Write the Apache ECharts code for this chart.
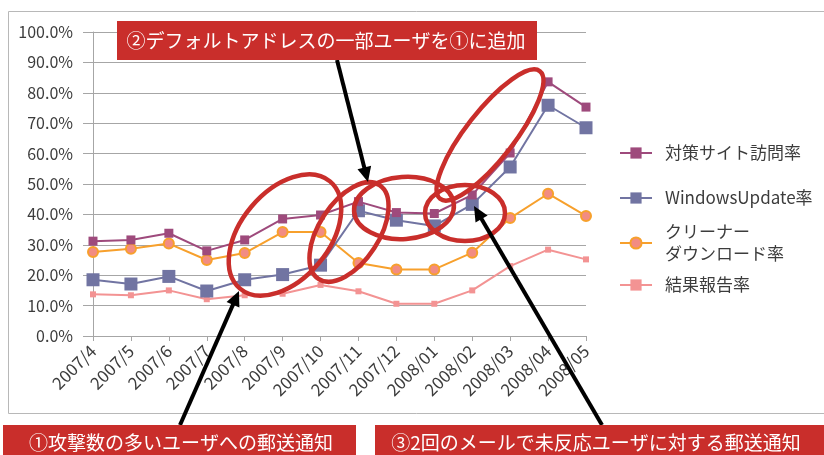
<!DOCTYPE html>
<html><head><meta charset="utf-8">
<script src="https://cdn.jsdelivr.net/npm/echarts@6/dist/echarts.min.js"></script>
<style>html,body{margin:0;padding:0;background:#fff}#c{width:824px;height:455px}</style>
</head><body><div id="c"></div>
<script>
const categories = ['2007/4','2007/5','2007/6','2007/7','2007/8','2007/9','2007/10','2007/11','2007/12','2008/01','2008/02','2008/03','2008/04','2008/05'];
const siteVisitRate      = [31.2, 31.6, 33.8, 28.0, 31.6, 38.5, 39.8, 44.2, 40.6, 40.3, 46.4, 60.2, 83.6, 75.3];
const windowsUpdateRate  = [18.5, 17.1, 19.6, 14.8, 18.5, 20.2, 23.3, 41.2, 38.1, 36.2, 43.3, 55.6, 75.9, 68.5];
const cleanerRate        = [27.6, 28.7, 30.4, 25.0, 27.3, 34.2, 34.2, 24.0, 21.9, 21.9, 27.4, 38.8, 46.8, 39.5];
const reportRate         = [13.7, 13.4, 15.0, 12.1, 13.4, 13.9, 16.8, 14.7, 10.6, 10.6, 15.0, 23.0, 28.4, 25.2];
const seriesNames = ['対策サイト訪問率', 'WindowsUpdate率', 'クリーナーダウンロード率', '結果報告率'];
const yMin = 0, yMax = 100, yStep = 10;
const note1 = '①攻撃数の多いユーザへの郵送通知';
const note2 = '②デフォルトアドレスの一部ユーザを①に追加';
const note3 = '③2回のメールで未反応ユーザに対する郵送通知';

const FONT = '"Noto Sans CJK JP", "Noto Sans", sans-serif';
const RED = '#C92E2B';
const TXT = '#3c3c3c';

function arrow(x1, y1, x2, y2) {
  const dx = x2 - x1, dy = y2 - y1, L = Math.hypot(dx, dy);
  const ux = dx / L, uy = dy / L, hl = 15, hw = 7;
  const bx = x2 - ux * hl, by = y2 - uy * hl;
  return [
    { type: 'line', z: 50, shape: { x1: x1, y1: y1, x2: bx + ux * 2, y2: by + uy * 2 }, style: { stroke: '#000', lineWidth: 4 } },
    { type: 'polygon', z: 50, shape: { points: [[x2, y2], [bx - uy * hw, by + ux * hw], [bx + uy * hw, by - ux * hw]] }, style: { fill: '#000' } }
  ];
}
function ell(cx, cy, rx, ry, deg) {
  return { type: 'ellipse', z: 40, x: cx, y: cy, rotation: deg * Math.PI / 180,
    shape: { cx: 0, cy: 0, rx: rx, ry: ry }, style: { fill: null, stroke: RED, lineWidth: 4.5 } };
}
function box(x, y, w, h, text, tx) {
  return [
    { type: 'rect', z: 60, shape: { x: x, y: y, width: w, height: h }, style: { fill: RED } },
    { type: 'text', z: 61, x: tx, y: y + h / 2, style: { text: text, fill: '#fff', font: '19px ' + FONT, align: 'center', verticalAlign: 'middle' } }
  ];
}

const chart = echarts.init(document.getElementById('c'));

const lineSeries = [
  { name: seriesNames[0], data: siteVisitRate, color: '#9E4A7C', symbol: 'rect', symbolSize: 9 },
  { name: seriesNames[1], data: windowsUpdateRate, color: '#7174A2', symbol: 'rect', symbolSize: 13 },
  { name: seriesNames[2], data: cleanerRate, color: '#F7A02C', symbol: 'circle', symbolSize: 10,
    itemStyle: { color: '#F28C82', borderColor: '#F7A02C', borderWidth: 2 } },
  { name: seriesNames[3], data: reportRate, color: '#F39393', symbol: 'rect', symbolSize: 6 }
].map(function (s, i) {
  return {
    type: 'line', name: s.name, data: s.data, symbol: s.symbol, symbolSize: s.symbolSize,
    z: 10 - i,
    lineStyle: { color: s.color, width: 2 },
    itemStyle: s.itemStyle || { color: s.color },
    emphasis: { disabled: true }, animation: false
  };
});

function legendAt(name, top, extra) {
  return Object.assign({
    data: [name], orient: 'vertical', left: 619, top: top, padding: 0,
    itemWidth: 32, itemHeight: 14, selectedMode: false,
    textStyle: { fontFamily: FONT, fontSize: 17, color: TXT, lineHeight: 20, padding: [0, 0, 0, 8] }
  }, extra || {});
}

const graphic = [
  { type: 'rect', z: 1, shape: { x: 8.5, y: 11.5, width: 840, height: 402 }, style: { fill: null, stroke: '#B8B8B8', lineWidth: 1 } },
  ell(285, 235, 70, 44, 50),
  ell(349, 232, 56, 30, 57),
  ell(404, 208, 50, 31, 4),
  ell(465, 213, 40, 28, 0),
  ell(490, 135, 81, 24, 52)
].concat(
  arrow(337, 60, 368, 182),
  arrow(180, 425, 239, 291),
  arrow(602, 425, 474, 206),
  box(117, 21, 420, 39, note2, 326),
  box(3, 425, 353, 35, note1, 181),
  box(375, 425, 460, 35, note3, 596)
);

chart.setOption({
  animation: false,
  backgroundColor: '#fff',
  textStyle: { fontFamily: FONT },
  grid: { left: 93, right: 238, top: 32, bottom: 119, containLabel: false },
  legend: [
    legendAt(seriesNames[0], 143),
    legendAt(seriesNames[1], 188),
    legendAt(seriesNames[2], 213, {
      formatter: function () { return 'クリーナー\nダウンロード率'; },
      textStyle: { fontFamily: FONT, fontSize: 17, color: TXT, lineHeight: 22, padding: [16, 0, 0, 8] }
    }),
    legendAt(seriesNames[3], 275)
  ],
  xAxis: {
    type: 'category', data: categories, boundaryGap: false,
    axisLine: { lineStyle: { color: '#A6A6A6', width: 1 } },
    axisTick: { show: true, length: 5, alignWithLabel: true, lineStyle: { color: '#A6A6A6' } },
    axisLabel: { rotate: 45, fontSize: 17, color: TXT, margin: 12, fontFamily: FONT },
    splitLine: { show: false }
  },
  yAxis: {
    type: 'value', min: yMin, max: yMax, interval: yStep,
    axisLine: { show: true, lineStyle: { color: '#A6A6A6', width: 1 } },
    axisTick: { show: true, length: 10, lineStyle: { color: '#A6A6A6' } },
    axisLabel: { fontSize: 16, color: TXT, margin: 20, fontFamily: FONT,
      formatter: function (v) { return v.toFixed(1) + '%'; } },
    splitLine: { show: true, lineStyle: { color: '#A6A6A6', width: 1 } }
  },
  series: lineSeries,
  graphic: graphic
});
</script></body></html>
